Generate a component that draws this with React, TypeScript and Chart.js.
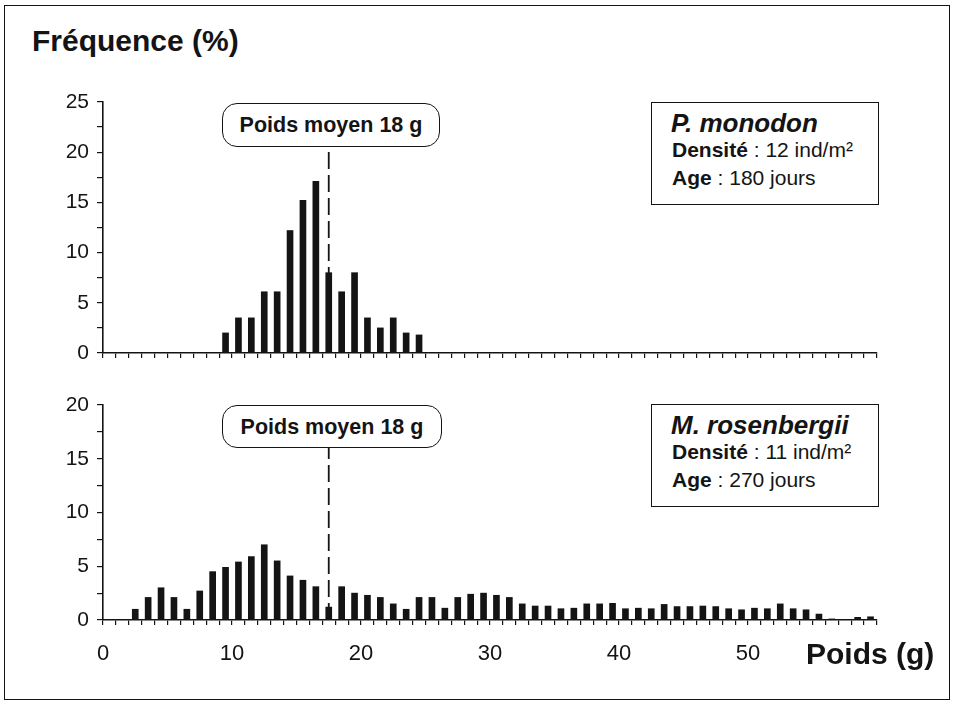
import React, { useEffect, useRef } from 'react';
import { Chart, registerables } from 'chart.js';

Chart.register(...registerables);

// ---------- DATA ----------
// weight classes (g), lower bound of each 1 g class
const weightClasses = [
  0, 1, 2, 3, 4, 5, 6, 7, 8, 9,
  10, 11, 12, 13, 14, 15, 16, 17, 18, 19,
  20, 21, 22, 23, 24, 25, 26, 27, 28, 29,
  30, 31, 32, 33, 34, 35, 36, 37, 38, 39,
  40, 41, 42, 43, 44, 45, 46, 47, 48, 49,
  50, 51, 52, 53, 54, 55, 56, 57, 58, 59,
];

// P. monodon frequency (%) per class
const monodonFreq = [
  0, 0, 0, 0, 0, 0, 0, 0, 0, 2,
  3.5, 3.5, 6.1, 6.1, 12.2, 15.2, 17.1, 8, 6.1, 8,
  3.5, 2.5, 3.5, 2, 1.8, 0, 0, 0, 0, 0,
  0, 0, 0, 0, 0, 0, 0, 0, 0, 0,
  0, 0, 0, 0, 0, 0, 0, 0, 0, 0,
  0, 0, 0, 0, 0, 0, 0, 0, 0, 0,
];

// M. rosenbergii frequency (%) per class
const rosenbergiiFreq = [
  0, 0, 1.0, 2.1, 3.0, 2.1, 1.0, 2.7, 4.5, 4.9,
  5.4, 5.9, 7.0, 5.5, 4.1, 3.7, 3.1, 1.2, 3.1, 2.5,
  2.3, 2.1, 1.5, 1.0, 2.1, 2.1, 1.1, 2.1, 2.4, 2.5,
  2.3, 2.1, 1.5, 1.3, 1.3, 1.05, 1.1, 1.5, 1.5, 1.55,
  1.05, 1.1, 1.05, 1.45, 1.25, 1.25, 1.3, 1.25, 1.05, 0.95,
  1.1, 1.05, 1.5, 1.05, 0.95, 0.55, 0.1, 0, 0.25, 0.3,
];

// position of the mean-weight marker on the weight axis, and top of its dashed line (%)
const meanMarkerX = 17.5;
const monodonMarkerTop = 20.5;
const rosenbergiiMarkerTop = 16;

const xTickLabels = [0, 10, 20, 30, 40, 50];
const topYTickLabels = [0, 5, 10, 15, 20, 25];
const bottomYTickLabels = [0, 5, 10, 15, 20];

const FONT = '"Liberation Sans", Arial, Helvetica, sans-serif';
const INK = '#141414';

type ChartSpec = {
  values: number[];
  yMax: number;
  yLabels: number[];
  markerTop: number;
  showXLabels: boolean;
  xAxisHeight: number;
  padding: { top: number; bottom: number; left: number; right: number };
};

function buildConfig(spec: ChartSpec): any {
  return {
    type: 'bar',
    data: {
      datasets: [
        {
          type: 'bar',
          data: weightClasses.map((c, i) => ({ x: c + 0.5, y: spec.values[i] })),
          backgroundColor: INK,
          borderWidth: 0,
          barThickness: 6,
        },
        {
          type: 'line',
          data: [
            { x: meanMarkerX, y: 0 },
            { x: meanMarkerX, y: spec.markerTop },
          ],
          borderColor: INK,
          borderWidth: 1.8,
          borderDash: [17, 6],
          pointRadius: 0,
          fill: false,
        },
      ],
    },
    options: {
      responsive: false,
      animation: false,
      events: [],
      layout: { padding: spec.padding },
      plugins: { legend: { display: false }, tooltip: { enabled: false } },
      scales: {
        x: {
          type: 'linear',
          min: 0,
          max: 60,
          offset: false,
          grid: {
            display: true,
            drawOnChartArea: false,
            drawTicks: true,
            tickLength: 5,
            color: INK,
            lineWidth: 1.2,
            offset: false,
          },
          border: { display: true, color: INK, width: 1.6 },
          ticks: {
            stepSize: 1,
            autoSkip: false,
            maxRotation: 0,
            minRotation: 0,
            padding: 16,
            color: INK,
            font: { family: FONT, size: 22 },
            callback: (v: number) =>
              spec.showXLabels && xTickLabels.includes(v) ? String(v) : '',
          },
          afterFit: (s: any) => {
            s.height = spec.xAxisHeight;
            s.paddingLeft = 0;
            s.paddingRight = 0;
          },
        },
        y: {
          type: 'linear',
          min: 0,
          max: spec.yMax,
          grid: {
            display: true,
            drawOnChartArea: false,
            drawTicks: true,
            tickLength: 6,
            color: INK,
            lineWidth: 1.2,
          },
          border: { display: true, color: INK, width: 1.6 },
          ticks: {
            stepSize: 2.5,
            autoSkip: false,
            padding: 8,
            color: INK,
            font: { family: FONT, size: 21 },
            callback: (v: number) => (spec.yLabels.includes(v) ? String(v) : ''),
          },
          afterFit: (s: any) => {
            s.width = 103;
            s.paddingTop = 0;
            s.paddingBottom = 0;
          },
        },
      },
    },
  };
}

function ChartCanvas(props: { spec: ChartSpec; top: number; height: number }) {
  const ref = useRef<HTMLCanvasElement | null>(null);
  useEffect(() => {
    if (!ref.current) return;
    const chart = new Chart(ref.current, buildConfig(props.spec));
    return () => chart.destroy();
  }, []);
  return (
    <canvas
      ref={ref}
      width={955}
      height={props.height}
      style={{ position: 'absolute', left: 0, top: props.top, width: 955, height: props.height }}
    />
  );
}

function Txt(props: {
  x: number;
  baseline: number;
  size: number;
  bold?: boolean;
  italic?: boolean;
  children: React.ReactNode;
}) {
  return (
    <div
      style={{
        position: 'absolute',
        left: props.x,
        top: props.baseline - 0.8465 * props.size,
        fontSize: props.size,
        lineHeight: 1,
        fontFamily: FONT,
        fontWeight: props.bold ? 'bold' : 'normal',
        fontStyle: props.italic ? 'italic' : 'normal',
        whiteSpace: 'nowrap',
        color: INK,
      }}
    >
      {props.children}
    </div>
  );
}

function MeanBox(props: { left: number; top: number; width: number; height: number }) {
  return (
    <div
      style={{
        position: 'absolute',
        left: props.left,
        top: props.top,
        width: props.width,
        height: props.height,
        boxSizing: 'border-box',
        border: `1.6px solid ${INK}`,
        borderRadius: 15,
        background: '#fff',
        display: 'flex',
        alignItems: 'center',
        justifyContent: 'center',
        fontFamily: FONT,
        fontWeight: 'bold',
        fontSize: 21.5,
        color: INK,
        whiteSpace: 'nowrap',
        paddingTop: 1,
      }}
    >
      Poids moyen 18 g
    </div>
  );
}

function LegendBox(props: {
  top: number;
  species: string;
  density: string;
  age: string;
}) {
  const t = props.top;
  return (
    <>
      <div
        style={{
          position: 'absolute',
          left: 651,
          top: t,
          width: 228,
          height: 103,
          boxSizing: 'border-box',
          border: `1.6px solid ${INK}`,
          background: '#fff',
        }}
      />
      <Txt x={671} baseline={t + 30} size={26} bold italic>
        {props.species}
      </Txt>
      <Txt x={672} baseline={t + 55} size={21}>
        <b>Densité</b> : {props.density}
      </Txt>
      <Txt x={672} baseline={t + 83} size={21}>
        <b>Age</b> : {props.age}
      </Txt>
    </>
  );
}

const topSpec: ChartSpec = {
  values: monodonFreq,
  yMax: 25,
  yLabels: topYTickLabels,
  markerTop: monodonMarkerTop,
  showXLabels: false,
  xAxisHeight: 10,
  padding: { top: 12, bottom: 17, left: 0, right: 78 },
};

const bottomSpec: ChartSpec = {
  values: rosenbergiiFreq,
  yMax: 20,
  yLabels: bottomYTickLabels,
  markerTop: rosenbergiiMarkerTop,
  showXLabels: true,
  xAxisHeight: 45,
  padding: { top: 15, bottom: 35, left: 0, right: 78 },
};

export default function App() {
  return (
    <div
      style={{
        position: 'absolute',
        left: 0,
        top: 0,
        width: 955,
        height: 706,
        background: '#fff',
        overflow: 'hidden',
      }}
    >
      <div
        style={{
          position: 'absolute',
          left: 4,
          top: 5,
          width: 946,
          height: 695,
          boxSizing: 'border-box',
          border: `1.6px solid ${INK}`,
        }}
      />
      <ChartCanvas spec={topSpec} top={90} height={290} />
      <ChartCanvas spec={bottomSpec} top={390} height={310} />

      <Txt x={32} baseline={51} size={30} bold>
        Fréquence (%)
      </Txt>
      <Txt x={806} baseline={664} size={30} bold>
        Poids (g)
      </Txt>

      <MeanBox left={222} top={103} width={218} height={44} />
      <MeanBox left={222} top={405} width={220} height={43} />

      <LegendBox top={102} species="P. monodon" density="12 ind/m²" age="180 jours" />
      <LegendBox top={404} species="M. rosenbergii" density="11 ind/m²" age="270 jours" />
    </div>
  );
}
